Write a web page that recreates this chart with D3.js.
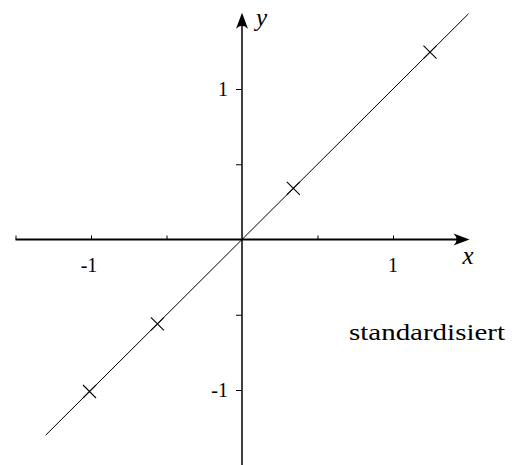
<!DOCTYPE html>
<html>
<head>
<meta charset="utf-8">
<script src="https://cdn.jsdelivr.net/npm/d3@7"></script>
</head>
<body style="margin:0">
<script>
// Standardised values (x and y are identical after standardising)
const zx = [-1.01, -0.56, 0.34, 1.245];
const zy = [-1.01, -0.56, 0.34, 1.245];
const fitLine = [-1.3, 1.5];
const xTicks = [-1.5, -1, -0.5, 0.5, 1];
const yTicks = [-1, -0.5, 0.5, 1];
const xTickLabels = [-1, 1];
const yTickLabels = [-1, 1];
const caption = "standardisiert";

const W = 525, H = 465;
const FONT = "Liberation Serif";
const svg = d3.select("body").append("svg")
  .attr("width", W).attr("height", H).style("display", "block");

const x = d3.scaleLinear().domain([-1.5, 1.5]).range([15.5, 468.5]);
const y = d3.scaleLinear().domain([-1.5, 1.5]).range([465.25, 13.75]);

const fmt = d => String(d);

// x axis through the origin, ticks pointing up
const gx = svg.append("g").attr("transform", `translate(0,${y(0)})`)
  .call(d3.axisTop(x).tickValues(xTicks).tickSize(4).tickSizeOuter(0).tickFormat(""));
gx.select(".domain").remove();
gx.selectAll(".tick line").attr("stroke", "#000").attr("stroke-width", 1);
gx.append("line").attr("x1", x(-1.5)).attr("x2", x(1.5) - 8)
  .attr("stroke", "#000").attr("stroke-width", 2);

// y axis through the origin, ticks pointing left
const gy = svg.append("g").attr("transform", `translate(${x(0)},0)`)
  .call(d3.axisLeft(y).tickValues(yTicks).tickSize(6).tickSizeOuter(0).tickFormat(""));
gy.select(".domain").remove();
gy.selectAll(".tick line").attr("stroke", "#000").attr("stroke-width", 1);
gy.append("line").attr("y1", y(-1.5)).attr("y2", y(1.5) + 8)
  .attr("stroke", "#000").attr("stroke-width", 1.5);

// arrowheads
const arrow = "M0,0 L-16,-6 Q-10,0 -16,6 Z";
svg.append("path").attr("d", arrow)
  .attr("transform", `translate(${x(1.5) + 1},${y(0)})`).attr("fill", "#000");
svg.append("path").attr("d", arrow)
  .attr("transform", `translate(${x(0)},${y(1.5) - 1}) rotate(-90)`).attr("fill", "#000");

// axis names
svg.append("text").attr("x", x(1.5) - 6).attr("y", y(0) + 24)
  .attr("font-family", FONT).attr("font-style", "italic").attr("font-size", 25).text("x");
svg.append("text").attr("x", x(0) + 14).attr("y", y(1.5) + 12)
  .attr("font-family", FONT).attr("font-style", "italic").attr("font-size", 25).text("y");

// tick labels
svg.selectAll(".xl").data(xTickLabels).join("text")
  .attr("font-family", FONT).attr("font-size", 20)
  .attr("x", d => x(d) - (d < 0 ? 2 : 0)).attr("y", y(0) + 32)
  .attr("text-anchor", "middle").text(fmt);
svg.selectAll(".yl").data(yTickLabels).join("text")
  .attr("font-family", FONT).attr("font-size", 20)
  .attr("x", x(0) - 14).attr("y", d => y(d) + 7)
  .attr("text-anchor", "end").text(fmt);

// fitted line y = x
svg.append("line")
  .attr("x1", x(fitLine[0])).attr("y1", y(fitLine[0]))
  .attr("x2", x(fitLine[1])).attr("y2", y(fitLine[1]))
  .attr("stroke", "#000").attr("stroke-width", 1);

// data points as crosses
const s = 6.5;
const pts = zx.map((v, i) => [v, zy[i]]);
svg.selectAll(".pt").data(pts).join("path")
  .attr("d", d => {
    const cx = x(d[0]), cy = y(d[1]);
    return `M${cx - s},${cy - s}L${cx + s},${cy + s}M${cx - s},${cy + s}L${cx + s},${cy - s}`;
  })
  .attr("stroke", "#000").attr("stroke-width", 1.1).attr("fill", "none");

// caption
svg.append("text").attr("x", 349).attr("y", 340)
  .attr("font-family", FONT).attr("font-size", 23)
  .attr("textLength", 156).attr("lengthAdjust", "spacingAndGlyphs").text(caption);
</script>
</body>
</html>
